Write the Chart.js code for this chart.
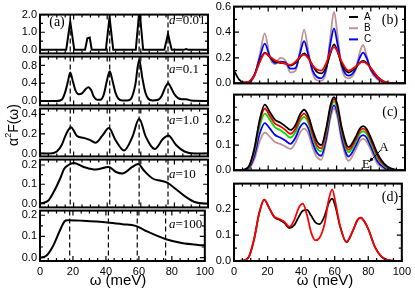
<!DOCTYPE html>
<html>
<head>
<meta charset="utf-8">
<script src="https://cdn.jsdelivr.net/npm/chart.js@4.4.1/dist/chart.umd.min.js"></script>
<style>
  body { margin: 0; background: #fff; }
  #fig { position: relative; width: 415px; height: 291px; overflow: hidden; }
  #fig canvas { position: absolute; }
</style>
</head>
<body>
<div id="fig"></div>
<script>
// ---- left column: alpha^2F(w) for different a ----
const w001 = [0, 15.6, 18, 20.4, 26.8, 28.2, 29.6, 30.8, 39.2, 41.4, 43.6, 57, 59.2, 61.4, 74, 76.2, 78.4, 85.6, 87, 88.4, 100];
const g001 = [0, 0, 1.6, 0, 0, 0.66, 0.7, 0, 0, 1.85, 0, 0, 2.3, 0, 0, 0.9, 0, 0, 0.05, 0, 0];

const w01 = [0, 10, 13, 15, 16.5, 18, 19.5, 21, 23, 25, 27, 28.8, 30.5, 32, 34, 36, 38, 39.8, 41.5, 43.2, 44.8, 46.5, 49, 52, 54.5, 56.8, 59, 61, 62.8, 64.5, 67, 70, 72.5, 74.5, 76.3, 78, 80, 82, 84.5, 87, 90, 100];
const g01 = [0, 0, 0.03, 0.2, 0.42, 0.64, 0.45, 0.25, 0.15, 0.17, 0.26, 0.31, 0.24, 0.1, 0.03, 0.03, 0.15, 0.45, 0.67, 0.45, 0.2, 0.06, 0.01, 0.01, 0.07, 0.38, 0.93, 0.5, 0.18, 0.05, 0.01, 0.02, 0.12, 0.3, 0.4, 0.3, 0.15, 0.07, 0.04, 0.04, 0.01, 0];

const w1 = [0, 6, 10, 13, 15.6, 18.4, 22, 26, 29.6, 33, 37, 41, 45, 50, 55, 59, 63, 68.4, 73, 76.4, 81, 86, 92, 100];
const g1 = [0, 0, 0.02, 0.09, 0.2, 0.27, 0.18, 0.16, 0.14, 0.11, 0.18, 0.26, 0.135, 0.03, 0.17, 0.355, 0.17, 0.045, 0.145, 0.185, 0.087, 0.02, 0, 0];

const w10 = [0, 5, 9, 12, 14.4, 17, 20, 26, 33, 41, 45, 49, 55, 58.4, 62, 67, 72, 76, 81, 87, 92, 98, 100];
const g10 = [0, 0.016, 0.074, 0.13, 0.18, 0.2, 0.21, 0.19, 0.176, 0.19, 0.165, 0.156, 0.19, 0.205, 0.17, 0.13, 0.118, 0.107, 0.074, 0.033, 0.008, 0, 0];

const w100 = [0, 4, 8, 12, 15, 16.5, 26, 41, 50, 58, 64, 76, 86, 96, 100];
const g100 = [0, 0.01, 0.056, 0.127, 0.172, 0.177, 0.174, 0.166, 0.158, 0.15, 0.127, 0.088, 0.069, 0.06, 0.058];

const dashPos = [18, 41.5, 59, 76.2];

// ---- right column: shared omega grid ----
const omegaR = [0, 3, 6, 9, 12, 15, 18, 21, 24, 27, 30, 33, 36, 38.5, 41, 43.5, 46, 48.5, 51, 54, 56.5, 58.5, 60.5, 63, 67, 71, 73.5, 75.5, 77.5, 80, 84, 88, 92, 96, 100];

// (b)
const bA = [0.10, 0.03, 0.008, 0.015, 0.07, 0.17, 0.24, 0.205, 0.17, 0.16, 0.155, 0.14, 0.16, 0.2, 0.235, 0.2, 0.14, 0.09, 0.078, 0.13, 0.24, 0.305, 0.25, 0.15, 0.085, 0.12, 0.16, 0.175, 0.16, 0.12, 0.05, 0.012, 0.002, 0, 0];
const bB = [0, 0, 0, 0.01, 0.06, 0.22, 0.39, 0.2, 0.15, 0.2, 0.18, 0.085, 0.1, 0.25, 0.42, 0.25, 0.08, 0.025, 0.02, 0.1, 0.38, 0.56, 0.38, 0.12, 0.04, 0.1, 0.24, 0.3, 0.22, 0.1, 0.03, 0.005, 0, 0, 0];
const bC = [0, 0, 0, 0.01, 0.065, 0.2, 0.31, 0.21, 0.16, 0.17, 0.165, 0.115, 0.12, 0.23, 0.33, 0.22, 0.1, 0.05, 0.04, 0.12, 0.32, 0.43, 0.31, 0.14, 0.06, 0.11, 0.2, 0.24, 0.2, 0.11, 0.04, 0.008, 0, 0, 0];
const bD = [0, 0, 0.002, 0.015, 0.065, 0.165, 0.235, 0.21, 0.18, 0.165, 0.155, 0.145, 0.17, 0.205, 0.225, 0.195, 0.14, 0.108, 0.1, 0.16, 0.25, 0.283, 0.25, 0.17, 0.1, 0.13, 0.16, 0.168, 0.155, 0.12, 0.05, 0.012, 0.002, 0, 0];

// (c)  A (top) ... E (bottom)
const cA = [0, 0, 0.003, 0.02, 0.09, 0.2, 0.26, 0.23, 0.2, 0.19, 0.175, 0.16, 0.18, 0.22, 0.24, 0.215, 0.16, 0.115, 0.1, 0.17, 0.26, 0.29, 0.26, 0.17, 0.092, 0.13, 0.165, 0.175, 0.165, 0.13, 0.065, 0.025, 0.007, 0.001, 0];
const cB = [0, 0, 0.003, 0.018, 0.085, 0.19, 0.245, 0.215, 0.185, 0.175, 0.16, 0.145, 0.165, 0.205, 0.225, 0.2, 0.145, 0.1, 0.087, 0.16, 0.25, 0.282, 0.25, 0.16, 0.082, 0.12, 0.155, 0.165, 0.155, 0.12, 0.055, 0.02, 0.005, 0.001, 0];
const cC = [0, 0, 0.002, 0.016, 0.078, 0.175, 0.225, 0.2, 0.17, 0.16, 0.145, 0.13, 0.152, 0.192, 0.212, 0.188, 0.132, 0.088, 0.075, 0.15, 0.24, 0.272, 0.24, 0.15, 0.072, 0.11, 0.145, 0.155, 0.145, 0.11, 0.047, 0.016, 0.004, 0, 0];
const cD = [0, 0, 0.001, 0.012, 0.06, 0.145, 0.187, 0.165, 0.14, 0.13, 0.118, 0.105, 0.13, 0.17, 0.187, 0.165, 0.11, 0.07, 0.058, 0.13, 0.225, 0.257, 0.225, 0.13, 0.055, 0.095, 0.13, 0.14, 0.13, 0.095, 0.035, 0.01, 0.002, 0, 0];
const cE = [0, 0, 0, 0.008, 0.045, 0.115, 0.15, 0.133, 0.112, 0.105, 0.095, 0.085, 0.11, 0.148, 0.165, 0.145, 0.09, 0.052, 0.042, 0.115, 0.21, 0.245, 0.21, 0.115, 0.038, 0.08, 0.115, 0.125, 0.115, 0.082, 0.025, 0.006, 0.001, 0, 0];

// (d)
const dBlack = [0, 0, 0.002, 0.018, 0.085, 0.185, 0.238, 0.205, 0.17, 0.16, 0.148, 0.128, 0.14, 0.17, 0.195, 0.198, 0.175, 0.15, 0.143, 0.175, 0.225, 0.242, 0.21, 0.14, 0.073, 0.12, 0.158, 0.168, 0.155, 0.124, 0.054, 0.016, 0.003, 0, 0];
const dRed = [0, 0, 0.002, 0.018, 0.085, 0.185, 0.238, 0.205, 0.172, 0.163, 0.152, 0.132, 0.16, 0.205, 0.222, 0.178, 0.11, 0.08, 0.09, 0.145, 0.24, 0.278, 0.225, 0.14, 0.075, 0.12, 0.158, 0.168, 0.155, 0.124, 0.054, 0.016, 0.003, 0, 0];

const legendLabels = ['A', 'B', 'C'];

const BLACK = '#000000', BROWN = '#bf9390', BLUE = '#0000ff', RED = '#ff0000', GREEN = '#00dd00';
const LEFT = { x0: 0, left: 40, right: 208 };
const RIGHT = { x0: 205, left: 234, right: 405 };
const SERIF = '"Liberation Serif", "Times New Roman", serif';
const SANS = '"Liberation Sans", Arial, sans-serif';

Chart.defaults.font.family = SANS;

const panels = [
  { col: LEFT, top: 13, bottom: 55, yMin: -0.2, yMax: 2.0, yTicks: [0, 1, 2], straight: true, dashes: true,
    series: [{ x: w001, y: g001, color: BLACK }],
    texts: [{ t: '(a)', x: 57, y: 22, size: 14, align: 'center' }, { ital: 'a', t: '=0.01', x: 169, y: 21, size: 13 }] },
  { col: LEFT, top: 55, bottom: 107, yMin: -0.1, yMax: 1.0, yTicks: [0, 0.4, 0.8], dashes: true,
    series: [{ x: w01, y: g01, color: BLACK }],
    texts: [{ ital: 'a', t: '=0.1', x: 169, y: 70, size: 13 }] },
  { col: LEFT, top: 107, bottom: 158, yMin: -0.03, yMax: 0.46, yTicks: [0, 0.2, 0.4], dashes: true, ytitle: true,
    series: [{ x: w1, y: g1, color: BLACK }],
    texts: [{ ital: 'a', t: '=1.0', x: 169, y: 121, size: 13 }] },
  { col: LEFT, top: 158, bottom: 209, yMin: -0.02, yMax: 0.228, yTicks: [0, 0.1, 0.2], dashes: true,
    series: [{ x: w10, y: g10, color: BLACK }],
    texts: [{ ital: 'a', t: '=10', x: 169, y: 175, size: 13 }] },
  { col: LEFT, top: 209, bottom: 261, yMin: -0.016, yMax: 0.222, yTicks: [0, 0.1, 0.2], dashes: true, xLabels: true,
    xtitle: { x: 118, y: 281 },
    series: [{ x: w100, y: g100, color: BLACK }],
    texts: [{ ital: 'a', t: '=100', x: 169, y: 225, size: 13 }] },
  { col: RIGHT, top: 5, bottom: 85, yMin: 0, yMax: 0.6, yTicks: [0, 0.2, 0.4, 0.6], legend: true,
    series: [
      { x: omegaR, y: bD, color: RED },
      { x: omegaR, y: bA, color: BLACK, label: 'A' },
      { x: omegaR, y: bC, color: BLUE, label: 'C' },
      { x: omegaR, y: bB, color: BROWN, label: 'B' }
    ],
    texts: [{ t: '(b)', x: 390, y: 20, size: 14, align: 'center' }] },
  { col: RIGHT, top: 93, bottom: 172, yMin: 0, yMax: 0.3, yTicks: [0, 0.1, 0.2],
    arrow: { from: [380, 151], to: [369, 162] },
    series: [
      { x: omegaR, y: cA, color: BLACK },
      { x: omegaR, y: cB, color: RED },
      { x: omegaR, y: cC, color: GREEN },
      { x: omegaR, y: cD, color: BLUE },
      { x: omegaR, y: cE, color: BROWN }
    ],
    texts: [{ t: '(c)', x: 390, y: 112, size: 14, align: 'center' },
            { t: 'A', x: 384, y: 148, size: 13, align: 'center' },
            { t: 'E', x: 366, y: 165, size: 13, align: 'center' }] },
  { col: RIGHT, top: 182, bottom: 261, yMin: 0, yMax: 0.3, yTicks: [0, 0.1, 0.2], xLabels: true,
    xtitle: { x: 325, y: 281 },
    series: [
      { x: omegaR, y: dRed, color: RED },
      { x: omegaR, y: dBlack, color: BLACK }
    ],
    texts: [{ t: '(d)', x: 390, y: 197, size: 14, align: 'center' }] }
];

function makeDecor(p) {
  return {
    id: 'decor',
    beforeDatasetsDraw(chart) {
      if (!p.dashes) return;
      const { ctx, chartArea: a, scales: { x } } = chart;
      ctx.save();
      ctx.strokeStyle = '#000';
      ctx.lineWidth = 1.2;
      ctx.setLineDash([5, 3]);
      dashPos.forEach(w => {
        const px = x.getPixelForValue(w);
        ctx.beginPath();
        ctx.moveTo(px, a.top);
        ctx.lineTo(px, a.bottom);
        ctx.stroke();
      });
      ctx.restore();
    },
    afterDatasetsDraw(chart) {
      const { ctx, chartArea: a, scales: { x, y } } = chart;
      ctx.save();
      ctx.strokeStyle = '#000';
      ctx.lineWidth = 1.2;
      ctx.beginPath();
      for (let v = 0; v <= 100; v += 5) {
        const px = x.getPixelForValue(v), len = v % 20 === 0 ? 5 : 3;
        ctx.moveTo(px, a.bottom); ctx.lineTo(px, a.bottom - len);
        ctx.moveTo(px, a.top); ctx.lineTo(px, a.top + len);
      }
      const step = (p.yTicks[1] - p.yTicks[0]) / 2;
      for (let k = Math.ceil(p.yMin / step - 1e-6); k * step <= p.yMax + 1e-6; k++) {
        const py = y.getPixelForValue(k * step), len = k % 2 === 0 ? 5 : 3;
        ctx.moveTo(a.left, py); ctx.lineTo(a.left + len, py);
        ctx.moveTo(a.right, py); ctx.lineTo(a.right - len, py);
      }
      ctx.stroke();
      ctx.lineWidth = 2;
      ctx.strokeRect(a.left, a.top, a.width, a.height);

      // annotations, in page coordinates
      ctx.translate(-p.cx, -p.cy);
      ctx.fillStyle = '#000';
      ctx.textBaseline = 'middle';
      (p.texts || []).forEach(t => {
        if (t.ital) {
          ctx.textAlign = 'left';
          ctx.font = 'italic ' + t.size + 'px ' + SERIF;
          ctx.fillText(t.ital, t.x, t.y);
          const w = ctx.measureText(t.ital).width;
          ctx.font = t.size + 'px ' + SERIF;
          ctx.fillText(t.t, t.x + w, t.y);
        } else {
          ctx.textAlign = t.align || 'left';
          ctx.font = t.size + 'px ' + SERIF;
          ctx.fillText(t.t, t.x, t.y);
        }
      });
      if (p.legend) {
        ctx.font = '10px ' + SANS;
        ctx.textAlign = 'left';
        legendLabels.forEach((lab, i) => {
          const ds = chart.data.datasets.find(d => d.label === lab);
          const ly = 17 + i * 11.2;
          ctx.strokeStyle = ds.borderColor;
          ctx.lineWidth = 2;
          ctx.beginPath(); ctx.moveTo(349, ly); ctx.lineTo(358, ly); ctx.stroke();
          ctx.fillText(lab, 364, ly);
        });
      }
      if (p.arrow) {
        const [x1, y1] = p.arrow.from, [x2, y2] = p.arrow.to;
        const ang = Math.atan2(y2 - y1, x2 - x1);
        ctx.strokeStyle = '#000'; ctx.lineWidth = 1;
        ctx.beginPath(); ctx.moveTo(x1, y1); ctx.lineTo(x2, y2); ctx.stroke();
        ctx.beginPath();
        ctx.moveTo(x2, y2);
        ctx.lineTo(x2 - 5 * Math.cos(ang - 0.4), y2 - 5 * Math.sin(ang - 0.4));
        ctx.lineTo(x2 - 5 * Math.cos(ang + 0.4), y2 - 5 * Math.sin(ang + 0.4));
        ctx.closePath(); ctx.fill();
      }
      if (p.xtitle) {
        ctx.font = '15px ' + SANS;
        ctx.textAlign = 'center';
        ctx.fillText('\u03c9 (meV)', p.xtitle.x, p.xtitle.y);
      }
      if (p.ytitle) {
        ctx.translate(14, 125);
        ctx.rotate(-Math.PI / 2);
        ctx.textAlign = 'left';
        ctx.font = '14px ' + SANS;
        const parts = [['\u03b1', 14, 0], ['2', 9, -5], ['F(\u03c9)', 14, 0]];
        let total = 0;
        parts.forEach(([s, f]) => { ctx.font = f + 'px ' + SANS; total += ctx.measureText(s).width; });
        let cx = -total / 2;
        parts.forEach(([s, f, dy]) => {
          ctx.font = f + 'px ' + SANS;
          ctx.fillText(s, cx, dy);
          cx += ctx.measureText(s).width;
        });
      }
      ctx.restore();
    }
  };
}

const fig = document.getElementById('fig');
panels.forEach(p => {
  const T = 8, R = 10, B = p.xLabels ? 30 : 8;
  p.cx = p.col.x0;
  p.cy = p.top - T;
  const L = p.col.left - p.col.x0;
  const W = p.col.right + R - p.col.x0;
  const H = p.bottom + B - p.cy;
  const cv = document.createElement('canvas');
  cv.width = W; cv.height = H;
  cv.style.left = p.cx + 'px';
  cv.style.top = p.cy + 'px';
  fig.appendChild(cv);

  new Chart(cv, {
    type: 'line',
    data: {
      datasets: p.series.map(s => ({
        label: s.label,
        data: s.x.map((w, i) => ({ x: w, y: s.y[i] })),
        borderColor: s.color,
        borderWidth: p.col === LEFT ? 2 : 1.8,
        pointRadius: 0,
        fill: false,
        tension: p.straight ? 0 : 0.4,
        cubicInterpolationMode: p.straight ? 'default' : 'monotone'
      }))
    },
    options: {
      responsive: false,
      animation: false,
      devicePixelRatio: 1,
      layout: { padding: { top: T, right: R, left: 0, bottom: p.xLabels ? 0 : B } },
      plugins: { legend: { display: false }, tooltip: { enabled: false } },
      scales: {
        x: {
          type: 'linear', min: 0, max: 100,
          grid: { display: false, drawTicks: false },
          border: { display: false },
          ticks: { display: !!p.xLabels, stepSize: 20, maxRotation: 0, padding: 4, color: '#000',
                   font: { size: 11 }, callback: v => String(v) },
          afterFit: s => { s.height = p.xLabels ? B : 0; }
        },
        y: {
          type: 'linear', min: p.yMin, max: p.yMax,
          grid: { display: false, drawTicks: false },
          border: { display: false },
          afterBuildTicks: s => { s.ticks = p.yTicks.map(v => ({ value: v })); },
          ticks: { padding: 3, color: '#000', font: { size: 11 }, callback: v => Number(v).toFixed(1) },
          afterFit: s => { s.width = L; }
        }
      }
    },
    plugins: [makeDecor(p)]
  });
});
</script>
</body>
</html>
